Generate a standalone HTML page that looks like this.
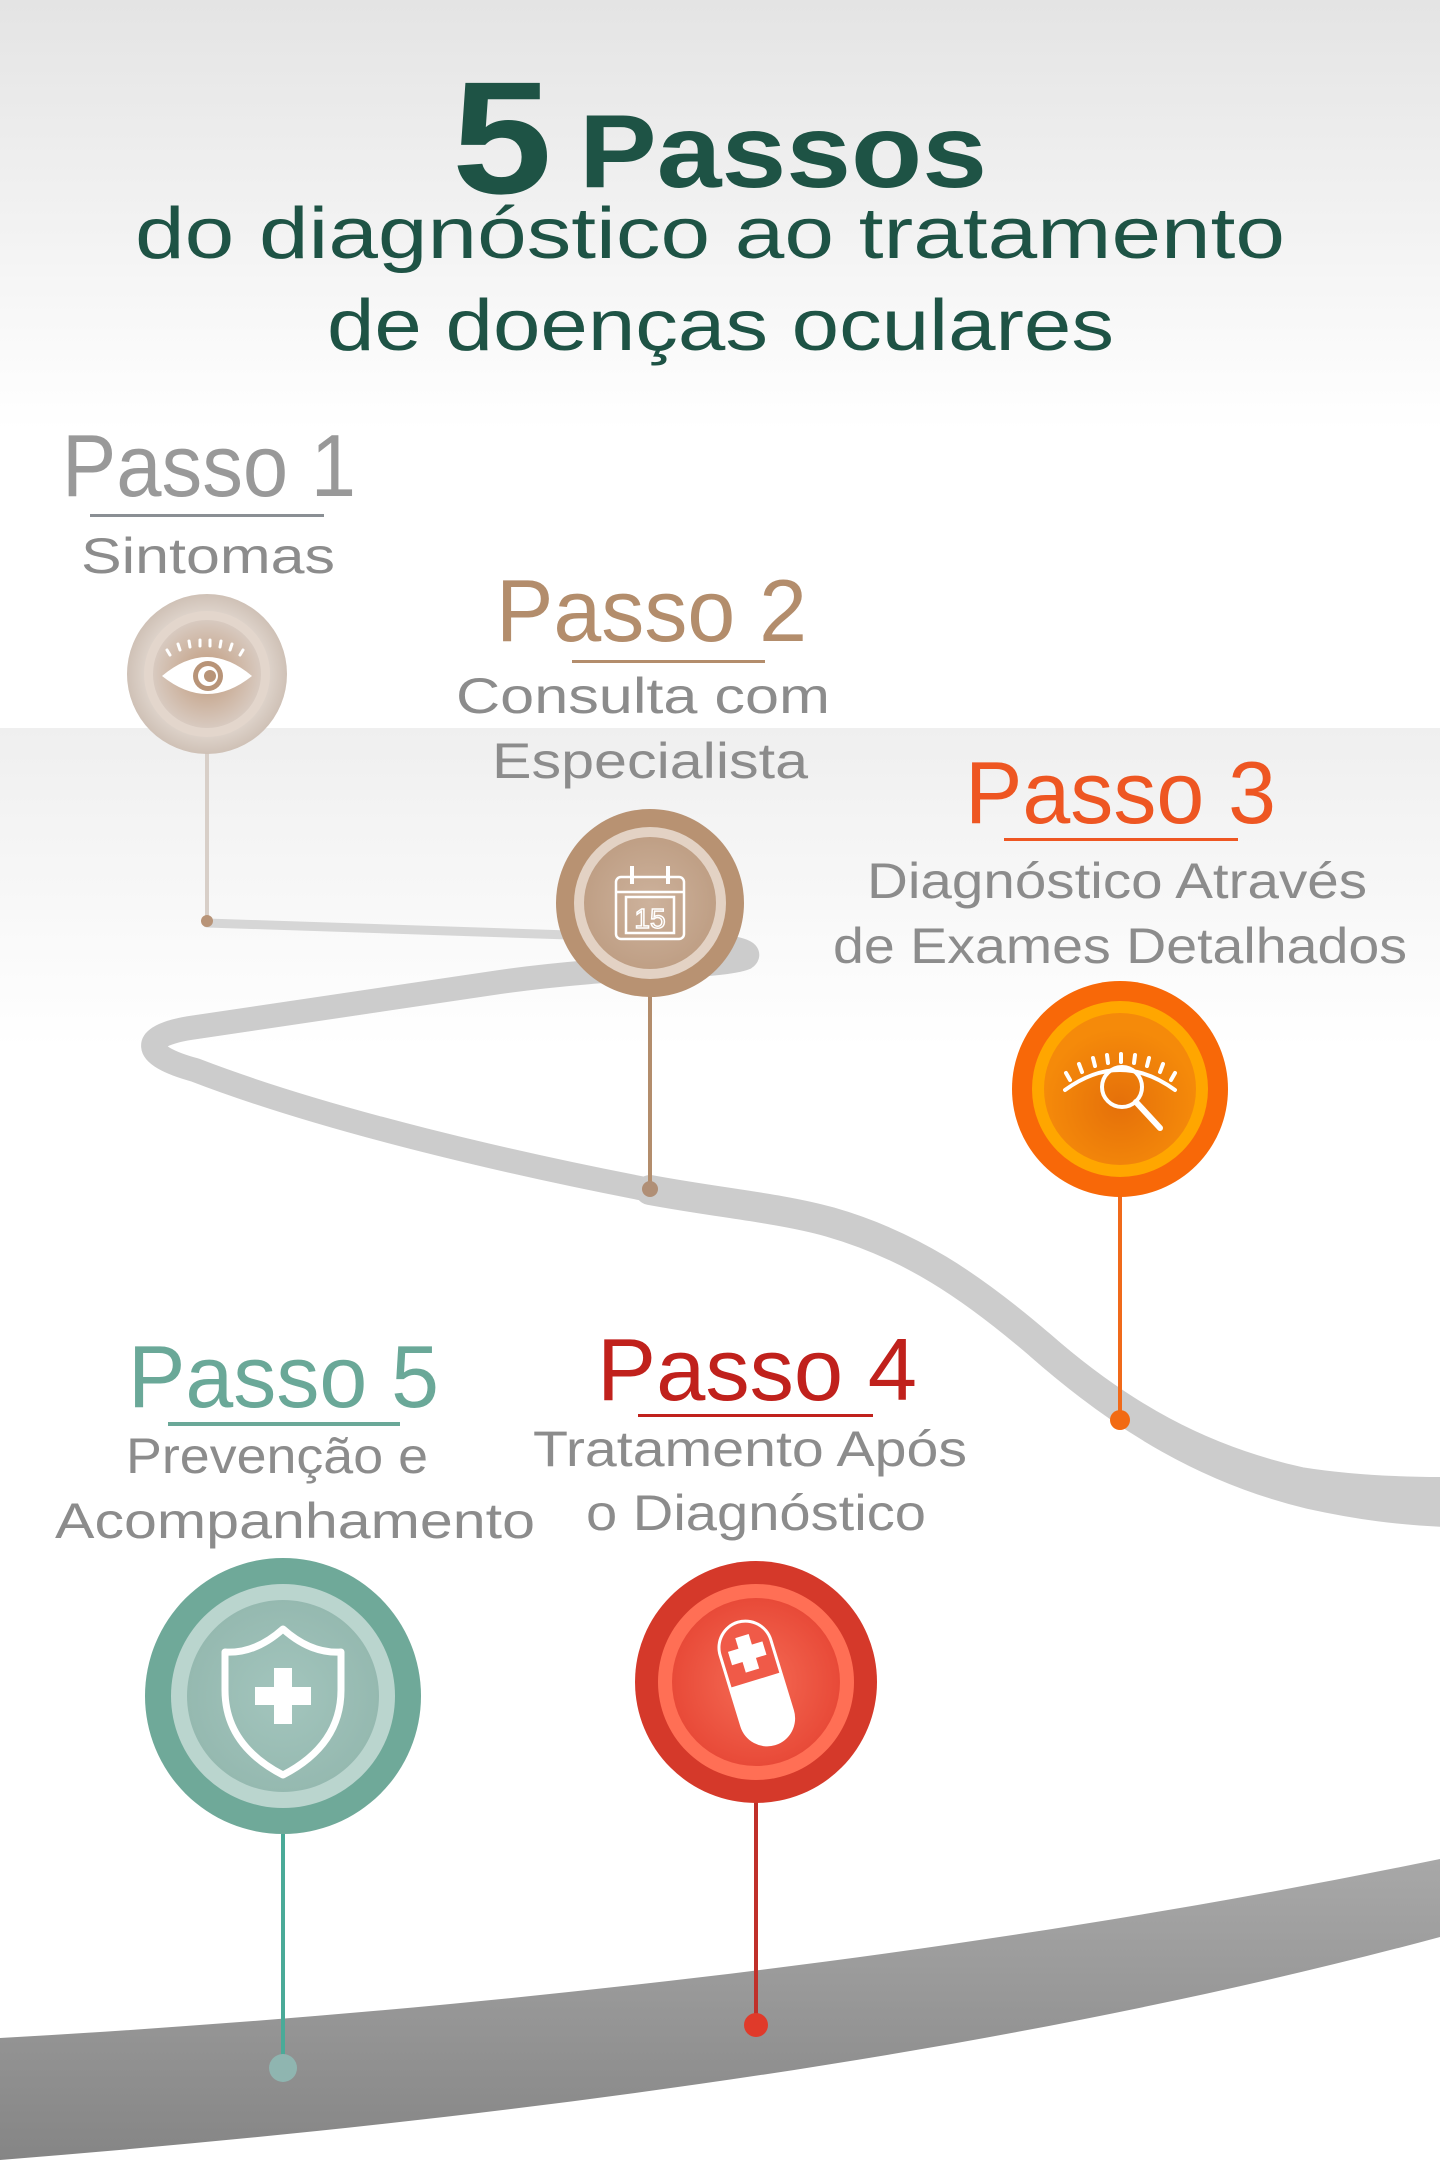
<!DOCTYPE html>
<html><head><meta charset="utf-8">
<style>
html,body{margin:0;padding:0;background:#fff;}
svg{display:block;}
text{font-family:"Liberation Sans",sans-serif;}
</style></head>
<body>
<svg width="1440" height="2162" viewBox="0 0 1440 2162" xmlns="http://www.w3.org/2000/svg">
<defs>
<linearGradient id="bgTop" x1="0" y1="0" x2="0" y2="1">
<stop offset="0" stop-color="#e4e4e4"/><stop offset="1" stop-color="#ffffff"/>
</linearGradient>
<linearGradient id="bgBand" x1="0" y1="0" x2="0" y2="1">
<stop offset="0" stop-color="#efefef"/><stop offset="1" stop-color="#ffffff"/>
</linearGradient>
<linearGradient id="road" x1="0" y1="0" x2="0" y2="1">
<stop offset="0" stop-color="#a8a8a8"/><stop offset="1" stop-color="#858585"/>
</linearGradient>
<radialGradient id="c1" cx="0.5" cy="0.5" r="0.5"><stop offset="0" stop-color="#c09a7c"/><stop offset="1" stop-color="#d8cac0"/></radialGradient>
<radialGradient id="c1o" cx="0.5" cy="0.5" r="0.5"><stop offset="0.7" stop-color="#e2d8d0"/><stop offset="1" stop-color="#cfc1b6"/></radialGradient>
<radialGradient id="c2" cx="0.5" cy="0.5" r="0.5"><stop offset="0" stop-color="#cdb29c"/><stop offset="1" stop-color="#bf9f85"/></radialGradient>
<radialGradient id="c3" cx="0.5" cy="0.6" r="0.5"><stop offset="0" stop-color="#e5700a"/><stop offset="1" stop-color="#f58a0a"/></radialGradient>
<radialGradient id="c4" cx="0.5" cy="0.5" r="0.5"><stop offset="0" stop-color="#f56b55"/><stop offset="1" stop-color="#e84a38"/></radialGradient>
<radialGradient id="c5" cx="0.5" cy="0.5" r="0.5"><stop offset="0" stop-color="#a3c5bd"/><stop offset="1" stop-color="#95b9b0"/></radialGradient>
</defs>

<rect x="0" y="0" width="1440" height="430" fill="url(#bgTop)"/>
<rect x="0" y="430" width="1440" height="298" fill="#fff"/>
<rect x="0" y="728" width="1440" height="320" fill="url(#bgBand)"/>
<rect x="0" y="1048" width="1440" height="1114" fill="#fff"/>

<!-- Title -->
<text x="452" y="193" font-size="160" font-weight="bold" fill="#1e5345" textLength="100" lengthAdjust="spacingAndGlyphs">5</text>
<text x="579" y="187" font-size="104" font-weight="bold" fill="#1e5345" textLength="408" lengthAdjust="spacingAndGlyphs">Passos</text>
<text x="135" y="258" font-size="72" fill="#1e5345" textLength="1150" lengthAdjust="spacingAndGlyphs">do diagnóstico ao tratamento</text>
<text x="327" y="350" font-size="72" fill="#1e5345" textLength="787" lengthAdjust="spacingAndGlyphs">de doenças oculares</text>

<!-- winding road -->
<path d="M207,923 L600,936" stroke="#d6d6d6" stroke-width="9" fill="none" stroke-linecap="round"/>
<path d="M580,936 C700,942 760,947 745,958 C720,968 620,965 500,982 C380,1000 260,1018 190,1028 C140,1036 140,1055 195,1070 C330,1122 520,1165 650,1190 C720,1203 780,1208 830,1222" stroke="#cccccc" stroke-width="24" fill="none" stroke-linecap="round"/>
<path d="M650,1190 C720,1203 780,1208 830,1222 C910,1245 970,1285 1040,1345 C1120,1415 1200,1460 1300,1482 C1350,1490 1400,1492 1445,1492" stroke="#cccccc" stroke-width="30" fill="none" stroke-linecap="round"/>
<path d="M1040,1345 C1125,1420 1210,1470 1310,1494 C1360,1505 1400,1510 1445,1512" stroke="#cccccc" stroke-width="30" fill="none" stroke-linecap="round"/>

<!-- bottom road -->
<path d="M0,2038 C500,2010 1000,1950 1440,1859 L1440,1937 C1000,2055 500,2120 0,2160 Z" fill="url(#road)"/>

<!-- Passo 1 -->
<text x="62" y="496" font-size="88" fill="#999999" textLength="294" lengthAdjust="spacingAndGlyphs">Passo 1</text>
<rect x="90" y="514" width="234" height="3" fill="#8a8f94"/>
<text x="208" y="573" font-size="50" fill="#8c8c8c" text-anchor="middle" textLength="254" lengthAdjust="spacingAndGlyphs">Sintomas</text>
<line x1="207" y1="752" x2="207" y2="921" stroke="#d8cfc8" stroke-width="4"/>
<circle cx="207" cy="921" r="6" fill="#b89478"/>
<circle cx="207" cy="674" r="80" fill="url(#c1o)"/>
<circle cx="207" cy="674" r="63" fill="#e3d6cc"/>
<circle cx="207" cy="674" r="54" fill="url(#c1)"/>
<g fill="#fff">
<path d="M162,676 Q207,638 252,676 Q207,712 162,676 Z"/>
<circle cx="208" cy="676" r="15" fill="#b89478"/>
<circle cx="208" cy="676" r="10" fill="#fff"/>
<circle cx="210" cy="676" r="6" fill="#b89478"/>
</g>
<g stroke="#fff" stroke-width="3" stroke-linecap="round">
<line x1="170" y1="655" x2="167" y2="650"/><line x1="180" y1="650" x2="178" y2="644"/><line x1="190" y1="647" x2="189" y2="641"/><line x1="200" y1="646" x2="200" y2="640"/><line x1="210" y1="646" x2="210" y2="640"/><line x1="220" y1="647" x2="221" y2="641"/><line x1="230" y1="650" x2="232" y2="644"/><line x1="240" y1="655" x2="243" y2="650"/>
</g>

<!-- Passo 2 -->
<text x="496" y="641" font-size="88" fill="#b38d6c" textLength="311" lengthAdjust="spacingAndGlyphs">Passo 2</text>
<rect x="572" y="660" width="193" height="3" fill="#b38d6c"/>
<text x="643" y="713" font-size="50" fill="#8c8c8c" text-anchor="middle" textLength="374" lengthAdjust="spacingAndGlyphs">Consulta com</text>
<text x="650" y="778" font-size="50" fill="#8c8c8c" text-anchor="middle" textLength="316" lengthAdjust="spacingAndGlyphs">Especialista</text>
<line x1="650" y1="990" x2="650" y2="1189" stroke="#b38d6c" stroke-width="4"/>
<circle cx="650" cy="1189" r="8" fill="#b08f76"/>
<circle cx="650" cy="903" r="94" fill="#b89272"/>
<circle cx="650" cy="903" r="76" fill="#e3d2c4"/>
<circle cx="650" cy="903" r="66" fill="url(#c2)"/>
<g fill="none" stroke="#fff" stroke-width="2.5">
<rect x="616" y="877" width="68" height="62" rx="5"/>
<line x1="616" y1="892" x2="684" y2="892"/>
<rect x="626" y="897" width="48" height="36"/>
<line x1="632" y1="866" x2="632" y2="884" stroke-width="4"/>
<line x1="668" y1="866" x2="668" y2="884" stroke-width="4"/>
</g>
<text x="650" y="928" font-size="28" fill="none" stroke="#fff" stroke-width="1.5" text-anchor="middle">15</text>

<!-- Passo 3 -->
<text x="965" y="823" font-size="88" fill="#ee5622" textLength="311" lengthAdjust="spacingAndGlyphs">Passo 3</text>
<rect x="1004" y="838" width="234" height="3" fill="#ee5622"/>
<text x="1117" y="898" font-size="50" fill="#8c8c8c" text-anchor="middle" textLength="500" lengthAdjust="spacingAndGlyphs">Diagnóstico Através</text>
<text x="1120" y="963" font-size="50" fill="#8c8c8c" text-anchor="middle" textLength="574" lengthAdjust="spacingAndGlyphs">de Exames Detalhados</text>
<line x1="1120" y1="1190" x2="1120" y2="1420" stroke="#f06a1a" stroke-width="4"/>
<circle cx="1120" cy="1420" r="10" fill="#f26a12"/>
<circle cx="1120" cy="1089" r="108" fill="#f86808"/>
<circle cx="1120" cy="1089" r="88" fill="#ffa600"/>
<circle cx="1120" cy="1089" r="76" fill="url(#c3)"/>
<g fill="none" stroke="#fff" stroke-width="4" stroke-linecap="round">
<path d="M1065,1090 Q1120,1050 1175,1090"/>
<circle cx="1122" cy="1087" r="20"/>
<line x1="1136" y1="1102" x2="1160" y2="1128" stroke-width="6"/>
<line x1="1070" y1="1080" x2="1066" y2="1073"/><line x1="1082" y1="1072" x2="1079" y2="1064"/><line x1="1095" y1="1066" x2="1093" y2="1058"/><line x1="1108" y1="1063" x2="1107" y2="1055"/><line x1="1121" y1="1062" x2="1121" y2="1054"/><line x1="1134" y1="1063" x2="1135" y2="1055"/><line x1="1147" y1="1066" x2="1149" y2="1058"/><line x1="1160" y1="1072" x2="1163" y2="1064"/><line x1="1171" y1="1080" x2="1175" y2="1073"/>
</g>

<!-- Passo 4 -->
<text x="597" y="1400" font-size="88" fill="#c0211c" textLength="320" lengthAdjust="spacingAndGlyphs">Passo 4</text>
<rect x="638" y="1414" width="235" height="3" fill="#c0211c"/>
<text x="750" y="1466" font-size="50" fill="#8c8c8c" text-anchor="middle" textLength="434" lengthAdjust="spacingAndGlyphs">Tratamento Após</text>
<text x="756" y="1530" font-size="50" fill="#8c8c8c" text-anchor="middle" textLength="340" lengthAdjust="spacingAndGlyphs">o Diagnóstico</text>
<line x1="756" y1="1800" x2="756" y2="2024" stroke="#c0302a" stroke-width="4"/>
<circle cx="756" cy="2025" r="12" fill="#e03a2a"/>
<circle cx="756" cy="1682" r="121" fill="#d5392a"/>
<circle cx="756" cy="1682" r="98" fill="#ff6f55"/>
<circle cx="756" cy="1682" r="84" fill="url(#c4)"/>
<g transform="rotate(-17 756 1682)">
<rect x="728" y="1618" width="56" height="130" rx="28" fill="#fff"/>
<path d="M731,1680 L781,1680 L781,1646 A25,25 0 0 0 731,1646 Z" fill="#f05a48"/>
<rect x="749" y="1634" width="14" height="36" fill="#fff"/>
<rect x="738" y="1645" width="36" height="14" fill="#fff"/>
</g>

<!-- Passo 5 -->
<text x="128" y="1407" font-size="88" fill="#6aa898" textLength="311" lengthAdjust="spacingAndGlyphs">Passo 5</text>
<rect x="168" y="1422" width="232" height="4" fill="#6aa898"/>
<text x="277" y="1473" font-size="50" fill="#8c8c8c" text-anchor="middle" textLength="302" lengthAdjust="spacingAndGlyphs">Prevenção e</text>
<text x="295" y="1538" font-size="50" fill="#8c8c8c" text-anchor="middle" textLength="480" lengthAdjust="spacingAndGlyphs">Acompanhamento</text>
<line x1="283" y1="1834" x2="283" y2="2066" stroke="#4aaa98" stroke-width="4"/>
<circle cx="283" cy="2068" r="14" fill="#8fb5b0"/>
<circle cx="283" cy="1696" r="138" fill="#6fa999"/>
<circle cx="283" cy="1696" r="112" fill="#bad5ce"/>
<circle cx="283" cy="1696" r="96" fill="url(#c5)"/>
<path d="M283,1629 Q255,1654 225,1652 L225,1690 Q225,1745 283,1775 Q341,1745 341,1690 L341,1652 Q311,1654 283,1629 Z" fill="none" stroke="#fff" stroke-width="7" stroke-linejoin="round"/>
<rect x="274" y="1668" width="18" height="56" fill="#fff"/>
<rect x="255" y="1687" width="56" height="18" fill="#fff"/>
</svg>
</body></html>
